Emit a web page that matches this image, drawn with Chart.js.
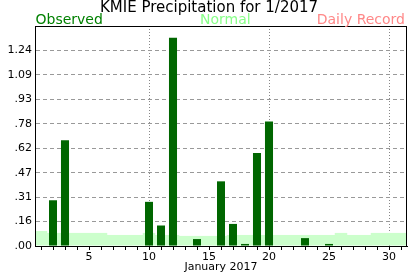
<!DOCTYPE html>
<html><head><meta charset="utf-8">
<script src="https://cdn.jsdelivr.net/npm/chart.js@4.4.0/dist/chart.umd.min.js"></script>
<style>html,body{margin:0;padding:0;background:#fff;overflow:hidden}</style>
</head><body>
<canvas id="c" width="417" height="276" style="display:block;width:417px;height:276px"></canvas>
<script>
// ---- data ----
const chartTitle = 'KMIE Precipitation for 1/2017';
const xAxisTitle = 'January 2017';
const days = ['1','2','3','4','5','6','7','8','9','10','11','12','13','14','15','16','17','18','19','20','21','22','23','24','25','26','27','28','29','30','31'];
const observed = [null,0.29,0.67,null,null,null,null,null,null,0.28,0.13,1.32,null,0.044,null,0.41,0.14,0.013,0.59,0.79,null,null,0.05,null,0.013,null,null,null,null,null,null];
const normal = [0.095,0.083,0.083,0.083,0.083,0.083,0.07,0.07,0.07,0.083,0.07,0.07,0.064,0.064,0.064,0.064,0.07,0.07,0.07,0.07,0.07,0.07,0.07,0.07,0.07,0.083,0.07,0.07,0.083,0.083,0.083];
const xTickLabels = ['5','10','15','20','25','30'];
const vGridDays = ['10','20','30'];
const yTickValues = [0,0.155,0.31,0.465,0.62,0.775,0.93,1.085,1.24];
const yTickLabels = ['.00','.16','.31','.47','.62','.78','.93','1.09','1.24'];
const yMax = 1.395;

const FONT = '"DejaVu Sans", Verdana, sans-serif';

const headerPlugin = {
  id: 'header',
  afterDraw(chart) {
    const {ctx, chartArea} = chart;
    ctx.save();
    // frame
    ctx.strokeStyle = '#000';
    ctx.lineWidth = 1;
    ctx.setLineDash([]);
    ctx.strokeRect(chartArea.left + 0.5, chartArea.top + 0.5, chartArea.right - chartArea.left - 1, chartArea.bottom - chartArea.top);
    // title
    ctx.textBaseline = 'alphabetic';
    ctx.font = '15px ' + FONT;
    ctx.fillStyle = '#000';
    ctx.textAlign = 'center';
    ctx.fillText(chartTitle, 209, 12);
    // legend words
    ctx.font = '14px ' + FONT;
    ctx.textAlign = 'left';
    ctx.fillStyle = '#008000';
    ctx.fillText('Observed', chartArea.left + 0.5, 24);
    ctx.fillStyle = '#88ff88';
    ctx.fillText('Normal', 200, 24);
    ctx.textAlign = 'right';
    ctx.fillStyle = '#ff8888';
    ctx.fillText('Daily Record', 405, 24);
    ctx.restore();
  }
};

new Chart(document.getElementById('c'), {
  type: 'bar',
  data: {
    labels: days,
    datasets: [
      {label: 'Observed', data: observed, backgroundColor: '#006600', borderWidth: 0,
       barPercentage: 0.67, categoryPercentage: 1, grouped: false, order: 0},
      {label: 'Normal', data: normal, backgroundColor: '#ccffcc', borderWidth: 0,
       barPercentage: 1.04, categoryPercentage: 1, grouped: false, order: 1}
    ]
  },
  options: {
    responsive: false,
    animation: false,
    devicePixelRatio: 1,
    layout: {padding: {top: 26, right: 10, left: 0, bottom: 0}},
    plugins: {legend: {display: false}, tooltip: {enabled: false}, title: {display: false}},
    scales: {
      x: {
        type: 'category',
        offset: true,
        z: 1,
        grid: {
          offset: false,
          drawOnChartArea: true,
          color: (c) => (c.index !== undefined && vGridDays.includes(days[c.index])) ? '#888' : 'rgba(0,0,0,0)',
          tickColor: '#000',
          tickLength: 4,
          lineWidth: 1
        },
        border: {display: true, color: '#000', dash: [1, 2]},
        ticks: {
          autoSkip: false, maxRotation: 0, minRotation: 0, padding: 1,
          color: '#000', font: {family: FONT, size: 11},
          callback: (v, i) => xTickLabels.includes(days[i]) ? days[i] : ''
        },
        title: {display: true, text: xAxisTitle, color: '#000', font: {family: FONT, size: 11}, padding: {top: 0, bottom: 2}},
        afterFit: (s) => { s.height = 30; }
      },
      y: {
        min: 0,
        max: yMax,
        afterBuildTicks: (s) => { s.ticks = yTickValues.map(v => ({value: v})); },
        grid: {
          color: (c) => c.index === 0 ? 'rgba(0,0,0,0)' : '#999',
          drawTicks: false,
          lineWidth: 1
        },
        border: {display: true, color: '#000', dash: [4, 3]},
        ticks: {
          padding: 3, color: '#000', font: {family: FONT, size: 11},
          callback: (v, i) => yTickLabels[i]
        },
        afterFit: (s) => { s.width = 35; }
      }
    }
  },
  plugins: [headerPlugin]
});
</script>
</body></html>
